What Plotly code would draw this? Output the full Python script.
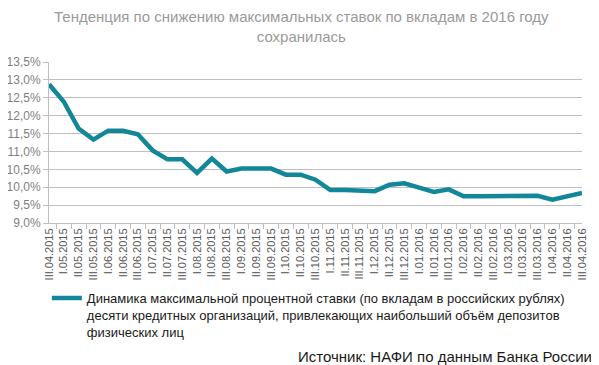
import plotly.graph_objects as go

periods = ["III.04.2015", "I.05.2015", "II.05.2015", "III.05.2015",
           "I.06.2015", "II.06.2015", "III.06.2015",
           "I.07.2015", "II.07.2015", "III.07.2015",
           "I.08.2015", "II.08.2015", "III.08.2015",
           "I.09.2015", "II.09.2015", "III.09.2015",
           "I.10.2015", "II.10.2015", "III.10.2015",
           "I.11.2015", "II.11.2015", "III.11.2015",
           "I.12.2015", "II.12.2015", "III.12.2015",
           "I.01.2016", "II.01.2016", "III.01.2016",
           "I.02.2016", "II.02.2016", "III.02.2016",
           "I.03.2016", "II.03.2016", "III.03.2016",
           "I.04.2016", "II.04.2016", "III.04.2016"]

max_rate = [12.88, 12.39, 11.64, 11.33, 11.58, 11.58, 11.48, 11.03, 10.78, 10.78,
            10.40, 10.80, 10.44, 10.52, 10.52, 10.52, 10.35, 10.35, 10.21, 9.92,
            9.92, 9.92, 9.89, 10.07, 10.11, 9.99, 9.87, 9.94, 9.75, 9.75,
            9.75, 9.77, 9.76, 9.76, 9.65, 9.75, 9.84]

y_ticks = [9.0, 9.5, 10.0, 10.5, 11.0, 11.5, 12.0, 12.5, 13.0, 13.5]
y_tick_labels = ["9,0%", "9,5%", "10,0%", "10,5%", "11,0%", "11,5%",
                 "12,0%", "12,5%", "13,0%", "13,5%"]

series_name = ("Динамика максимальной процентной ставки (по вкладам в российских рублях)<br>"
               "десяти кредитных организаций, привлекающих наибольший объём депозитов<br>"
               "физических лиц")
title_text = "Тенденция по снижению максимальных ставок по вкладам в 2016 году<br>сохранилась"
source_text = "Источник: НАФИ по данным Банка России"

FONT = "Liberation Sans, Arial, sans-serif"

fig = go.Figure()
fig.add_trace(go.Scatter(
    x=periods, y=max_rate, mode="lines", name=series_name,
    line=dict(color="#12879A", width=4.5),
))

# the page has an 8px body margin: layout is shifted up-left by 8px
fig.update_layout(
    width=599, height=365,
    margin=dict(l=41, r=25, t=54, b=150, autoexpand=False),
    paper_bgcolor="white", plot_bgcolor="white",
    font=dict(family=FONT, color="#595959"),
    showlegend=True,
    legend=dict(x=-0.004, xanchor="left", y=-0.373, yanchor="top", valign="top",
                font=dict(family=FONT, size=13, color="#1a1a1a"),
                bgcolor="rgba(0,0,0,0)", itemwidth=30, tracegroupgap=0),
    annotations=[
        dict(text=title_text, xref="paper", yref="paper",
             x=0.473, y=1.348, xanchor="center", yanchor="top",
             showarrow=False, align="center",
             font=dict(family=FONT, size=15, color="#9A9A9A")),
        dict(text=source_text, xref="paper", yref="paper",
             x=1.0225, y=-0.832, xanchor="right", yanchor="middle",
             showarrow=False,
             font=dict(family=FONT, size=15, color="#1a1a1a")),
    ],
)

fig.update_xaxes(
    type="category", tickangle=-90, tickfont=dict(size=11, color="#595959"),
    showline=True, linecolor="#BFBFBF", linewidth=1, automargin=False,
    ticks="outside", tickson="boundaries", ticklen=5, tickcolor="#BFBFBF",
    showgrid=False,
)
fig.update_yaxes(
    range=[9.0, 13.5], tickvals=y_ticks, ticktext=y_tick_labels,
    tickfont=dict(size=12, color="#7F7F7F"), automargin=False,
    ticklabelstandoff=0,
    showgrid=True, gridcolor="#BFBFBF", gridwidth=1, zeroline=False,
    showline=True, linecolor="#BFBFBF", linewidth=1,
    ticks="outside", ticklen=5, tickcolor="#BFBFBF",
)

fig.write_html("out.html")
